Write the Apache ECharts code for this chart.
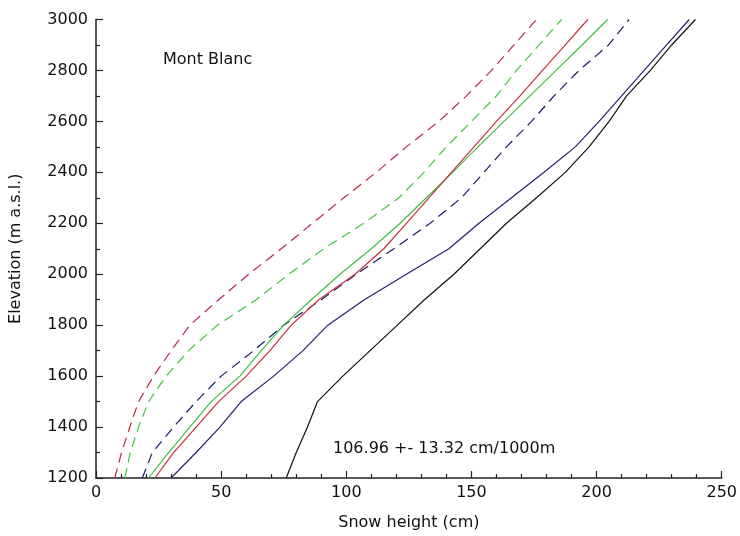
<!DOCTYPE html>
<html>
<head>
<meta charset="utf-8">
<script src="https://cdn.jsdelivr.net/npm/echarts@6/dist/echarts.min.js"></script>
<style>html,body{margin:0;padding:0;background:#fff;}#chart{width:740px;height:536px;}</style>
</head>
<body>
<div id="chart"></div>
<script>
// Elevation levels (m a.s.l.)
const elevations = [1200,1300,1400,1500,1600,1700,1800,1900,2000,2100,2200,2300,2400,2500,2600,2700,2800,2900,3000];
// Snow height (cm) per elevation for each curve
const redDashed   = [7.5,10.2,13.5,17,23,30,37.5,49,61,74,86.5,99,112,124,137,148,158,167,176];
const greenDashed = [11.5,13.7,17,21,28,37,48.5,64,77,91,107,121,131,140,150,160,168,177,186];
const blueDashed  = [18.5,22.5,31,40,50,63,75,90,104,119,133.5,146,155,164,174,183,193,204.8,213];
const greenSolid  = [21,29,37.5,46,57.5,66,75,86,97.5,110,121.5,132,142.5,152.6,163,173.4,183.8,194.2,204.4];
const redSolid    = [23.5,31,40,49,60,69.5,78,89,103.5,115,124,133,142,151,160,169.4,178.4,187.5,196.5];
const blueSolid   = [30,40,49.5,58,71,82.7,92.6,107.2,124,141,153,166,179,191.5,201,210,219,228,237];
const blackSolid  = [76,80,84.5,88.5,98.6,109.5,120.4,131.2,143,153.5,164,176,187.5,197,205,212,221.5,230,239.5];
// Annotations
const titleText = "Mont Blanc";
const fitText = "106.96 +- 13.32 cm/1000m";
const xName = "Snow height (cm)";
const yName = "Elevation (m a.s.l.)";

function pairs(xs){ return xs.map((v,i)=>[v, elevations[i]]); }

const FONT = "DejaVu Sans";
const chart = echarts.init(document.getElementById('chart'), null, {renderer:'canvas'});

const lineDefs = [
  {d: redDashed,   c:'#b8283c', dash:[10,6]},
  {d: greenDashed, c:'#3fc43f', dash:[10,6]},
  {d: blueDashed,  c:'#1c1c6a', dash:[10,6]},
  {d: greenSolid,  c:'#3cc03c', dash:'solid'},
  {d: redSolid,    c:'#c8303c', dash:'solid'},
  {d: blueSolid,   c:'#22226e', dash:'solid'},
  {d: blackSolid,  c:'#111111', dash:'solid'}
];

chart.setOption({
  animation:false,
  backgroundColor:'#fff',
  grid:{left:92, right:18, top:19.5, bottom:53, containLabel:false},
  xAxis:{
    type:'value', min:0, max:250, interval:50,
    name:xName, nameLocation:'middle', nameGap:37,
    nameTextStyle:{fontFamily:FONT, fontSize:16, color:'#111'},
    axisLine:{show:true, lineStyle:{color:'#222', width:1.5}},
    axisTick:{show:true, inside:true, length:7, lineStyle:{color:'#222', width:1.2}},
    minorTick:{show:true, splitNumber:5, length:4, lineStyle:{color:'#222', width:1.2}},
    axisLabel:{fontFamily:FONT, fontSize:16, color:'#111', margin:7},
    splitLine:{show:false}
  },
  yAxis:{
    type:'value', min:1200, max:3000, interval:200,
    name:yName, nameLocation:'middle', nameGap:72, nameRotate:90,
    nameTextStyle:{fontFamily:FONT, fontSize:16, color:'#111'},
    axisLine:{show:true, lineStyle:{color:'#222', width:1.5}},
    axisTick:{show:true, inside:true, length:7, lineStyle:{color:'#222', width:1.2}},
    minorTick:{show:true, splitNumber:2, length:4, lineStyle:{color:'#222', width:1.2}},
    axisLabel:{fontFamily:FONT, fontSize:16, color:'#111', margin:8, formatter:(v)=>String(v)},
    splitLine:{show:false}
  },
  graphic:[
    {type:'text', left:163, top:52, style:{text:titleText, font:'16px "DejaVu Sans"', fill:'#111'}},
    {type:'text', left:333, top:441, style:{text:fitText, font:'16px "DejaVu Sans"', fill:'#111'}}
  ],
  series: lineDefs.map(l=>({
    type:'line', data:pairs(l.d), showSymbol:false, symbol:'none', clip:true,
    lineStyle:{color:l.c, width:1.2, type:l.dash}
  }))
});
</script>
</body>
</html>
